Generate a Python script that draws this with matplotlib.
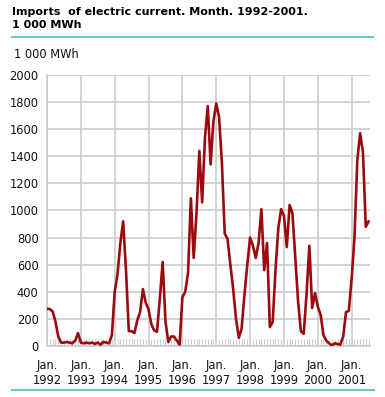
import numpy as np
import matplotlib
matplotlib.use('Agg')
import matplotlib.pyplot as plt
from matplotlib.ticker import MultipleLocator

# monthly imports, 1 000 MWh, Jan 1992 - Jul 2001
y1992 = [275, 272, 255, 180, 70, 25, 25, 30, 25, 20, 40, 95]
y1993 = [25, 20, 25, 20, 25, 15, 25, 10, 30, 25, 20, 80]
y1994 = [400, 530, 760, 920, 560, 110, 110, 95, 190, 250, 420, 320]
y1995 = [270, 160, 115, 105, 350, 620, 180, 30, 70, 70, 40, 10]
y1996 = [360, 400, 540, 1090, 650, 980, 1440, 1060, 1540, 1770, 1340, 1660]
y1997 = [1790, 1690, 1350, 830, 790, 600, 420, 200, 60, 130, 380, 600]
y1998 = [800, 740, 650, 760, 1010, 560, 760, 140, 177, 560, 870, 1010]
y1999 = [960, 730, 1040, 980, 660, 330, 110, 90, 380, 740, 280, 390]
y2000 = [290, 230, 80, 40, 20, 5, 20, 15, 10, 70, 250, 260]
y2001 = [500, 800, 1370, 1570, 1430, 880, 920]

years = list(range(1992, 2002))
values = y1992 + y1993 + y1994 + y1995 + y1996 + y1997 + y1998 + y1999 + y2000 + y2001
tick_labels = ['Jan.\n%d' % y for y in years]

teal = '#66c9c4'
grid_c = '#cccccc'
red = '#9b0a0e'

fig = plt.figure(figsize=(3.85, 3.97), dpi=100)
ax = fig.add_axes([47/385, 1 - 346/397, (370-47)/385, (346-75)/397])

x = np.arange(len(values))
ax.plot(x, values, color=red, lw=1.9, solid_joinstyle='round', zorder=3)

ax.set_xlim(0, 114.5)
ax.set_ylim(0, 2000)
ax.set_xticks(np.arange(0, 12*len(years), 12))
ax.set_xticklabels(tick_labels, fontsize=8.3, color='#111111', linespacing=1.3)
ax.xaxis.set_minor_locator(MultipleLocator(1))
ax.set_yticks(np.arange(0, 2001, 200))
ax.tick_params(axis='y', length=0, labelsize=8.3, pad=6, colors='#111111')
ax.tick_params(axis='x', which='major', length=0, pad=9)
ax.tick_params(axis='x', which='minor', direction='in', length=5, color=grid_c, width=0.8)
ax.grid(True, which='major', color=grid_c, lw=1.2)
ax.set_axisbelow(True)
for s in ['top', 'right']:
    ax.spines[s].set_visible(False)
for s in ['left', 'bottom']:
    ax.spines[s].set_color(grid_c)
    ax.spines[s].set_linewidth(1.2)

fig.text(12/385, 1 - 7/397, 'Imports  of electric current. Month. 1992-2001.\n1 000 MWh',
         fontsize=8, fontweight='bold', va='top', ha='left', linespacing=1.35)
fig.text(14/385, 1 - 55/397, '1 000 MWh', fontsize=8.3, va='center', ha='left', color='#111111')
fig.add_artist(plt.Line2D([12/385, 373/385], [1 - 37/397, 1 - 37/397], color=teal, lw=1.5))
fig.add_artist(plt.Line2D([12/385, 374/385], [1 - 390/397, 1 - 390/397], color=teal, lw=1.5))

fig.savefig('out.png', dpi=100)
